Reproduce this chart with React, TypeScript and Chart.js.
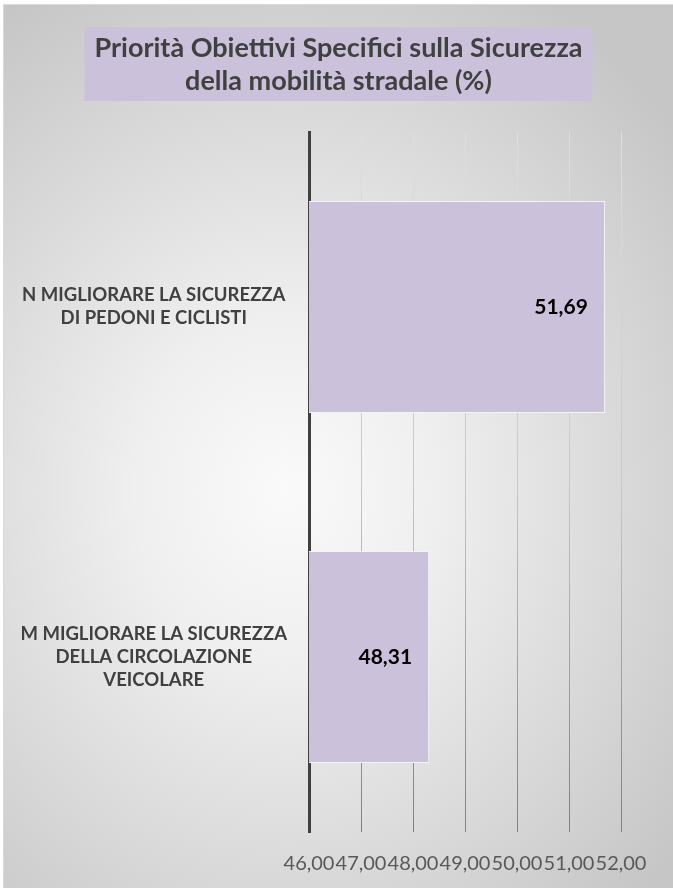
import { useEffect, useRef } from 'react';
import { Chart, registerables } from 'chart.js';

Chart.register(...registerables);

const titleLines = ['Priorità Obiettivi Specifici sulla Sicurezza', 'della mobilità stradale (%)'];
const categories = [
  ['N MIGLIORARE LA SICUREZZA', 'DI PEDONI E CICLISTI'],
  ['M MIGLIORARE LA SICUREZZA', 'DELLA CIRCOLAZIONE', 'VEICOLARE'],
];
const values = [51.69, 48.31];
const tickValues = [46, 47, 48, 49, 50, 51, 52];

const fmt = (v: number) => v.toFixed(2).replace('.', ',');

const FONT = 'Lato, "Open Sans", sans-serif';
const TITLE_SIZE = 27;

const titleBoxPlugin = {
  id: 'titleBox',
  beforeDraw(chart: any) {
    const tb = chart.titleBlock;
    if (!tb) return;
    const ctx = chart.ctx;
    ctx.save();
    ctx.font = `bold ${TITLE_SIZE}px ${FONT}`;
    const w = Math.max(...titleLines.map((l) => ctx.measureText(l).width));
    const cx = (tb.left + tb.right) / 2;
    const padX = 10;
    const top = tb.top + 22;
    const bottom = tb.top + 96;
    ctx.fillStyle = '#ccc1da';
    ctx.fillRect(cx - w / 2 - padX, top, w + padX * 2, bottom - top);
    ctx.restore();
  },
};

const dataLabelPlugin = {
  id: 'dataLabels',
  afterDatasetsDraw(chart: any) {
    const ctx = chart.ctx;
    const meta = chart.getDatasetMeta(0);
    ctx.save();
    ctx.font = `bold 21px ${FONT}`;
    ctx.fillStyle = '#000000';
    ctx.textAlign = 'right';
    ctx.textBaseline = 'middle';
    meta.data.forEach((bar: any, i: number) => {
      ctx.fillText(fmt(values[i]), bar.x - 17, bar.y);
    });
    ctx.restore();
  },
};

export default function App() {
  const ref = useRef<HTMLCanvasElement | null>(null);

  useEffect(() => {
    if (!ref.current) return;
    const chart = new Chart(ref.current, {
      type: 'bar',
      data: {
        labels: categories as any,
        datasets: [
          {
            data: values,
            backgroundColor: '#ccc1db',
            borderColor: '#f4f4f6',
            borderWidth: 1,
            borderSkipped: false,
            categoryPercentage: 1,
            barPercentage: 0.606,
          },
        ],
      },
      options: {
        indexAxis: 'y',
        animation: false,
        responsive: false,
        devicePixelRatio: 1,
        layout: { padding: 0 },
        plugins: {
          legend: { display: false },
          tooltip: { enabled: false },
          title: {
            display: true,
            text: titleLines,
            color: '#404040',
            font: { family: FONT, size: TITLE_SIZE, weight: 'bold', lineHeight: 33 / TITLE_SIZE },
            padding: { top: 26.5, bottom: 34.5 },
          },
        },
        scales: {
          x: {
            type: 'linear',
            min: 46,
            max: 52,
            afterBuildTicks: (s: any) => {
              s.ticks = tickValues.map((v) => ({ value: v }));
            },
            afterFit: (s: any) => {
              s.height = 56;
              s.paddingRight = 52;
              s.paddingLeft = 0;
            },
            grid: {
              drawTicks: false,
              tickLength: 0,
              lineWidth: 1,
              color: (c: any) => {
                const chart = c.chart;
                const area = chart.chartArea;
                if (!area) return '#d0d0d0';
                const g = chart.ctx.createLinearGradient(0, area.top, 0, area.bottom);
                g.addColorStop(0, '#dedede');
                g.addColorStop(0.5, '#c8c8c8');
                g.addColorStop(1, '#808080');
                return g;
              },
            },
            border: { display: false },
            ticks: {
              autoSkip: false,
              maxRotation: 0,
              minRotation: 0,
              padding: 20,
              color: '#595959',
              font: { family: FONT, size: 20 },
              callback: (v: any) => fmt(Number(v)),
            },
          },
          y: {
            afterFit: (s: any) => {
              s.width = 305;
            },
            grid: { display: false },
            border: { display: true, color: '#404040', width: 3 },
            ticks: {
              crossAlign: 'center',
              padding: 14,
              color: '#404040',
              font: { family: FONT, size: 18.5, weight: 'bold', lineHeight: 23 / 18.5 },
            },
          },
        },
      },
      plugins: [titleBoxPlugin, dataLabelPlugin],
    });
    return () => chart.destroy();
  }, []);

  return (
    <div
      style={{
        position: 'absolute',
        left: 3,
        top: 4,
        width: 669,
        height: 883,
        borderTop: '1px solid #d9d9d9',
        borderLeft: '1px solid #d9d9d9',
        background:
          'radial-gradient(ellipse 75% 65% at 42% 55%, #fafafa 0%, #efefef 30%, #c6c6c6 100%)',
      }}
    >
      <canvas ref={ref} width={669} height={883} style={{ display: 'block' }} />
    </div>
  );
}
